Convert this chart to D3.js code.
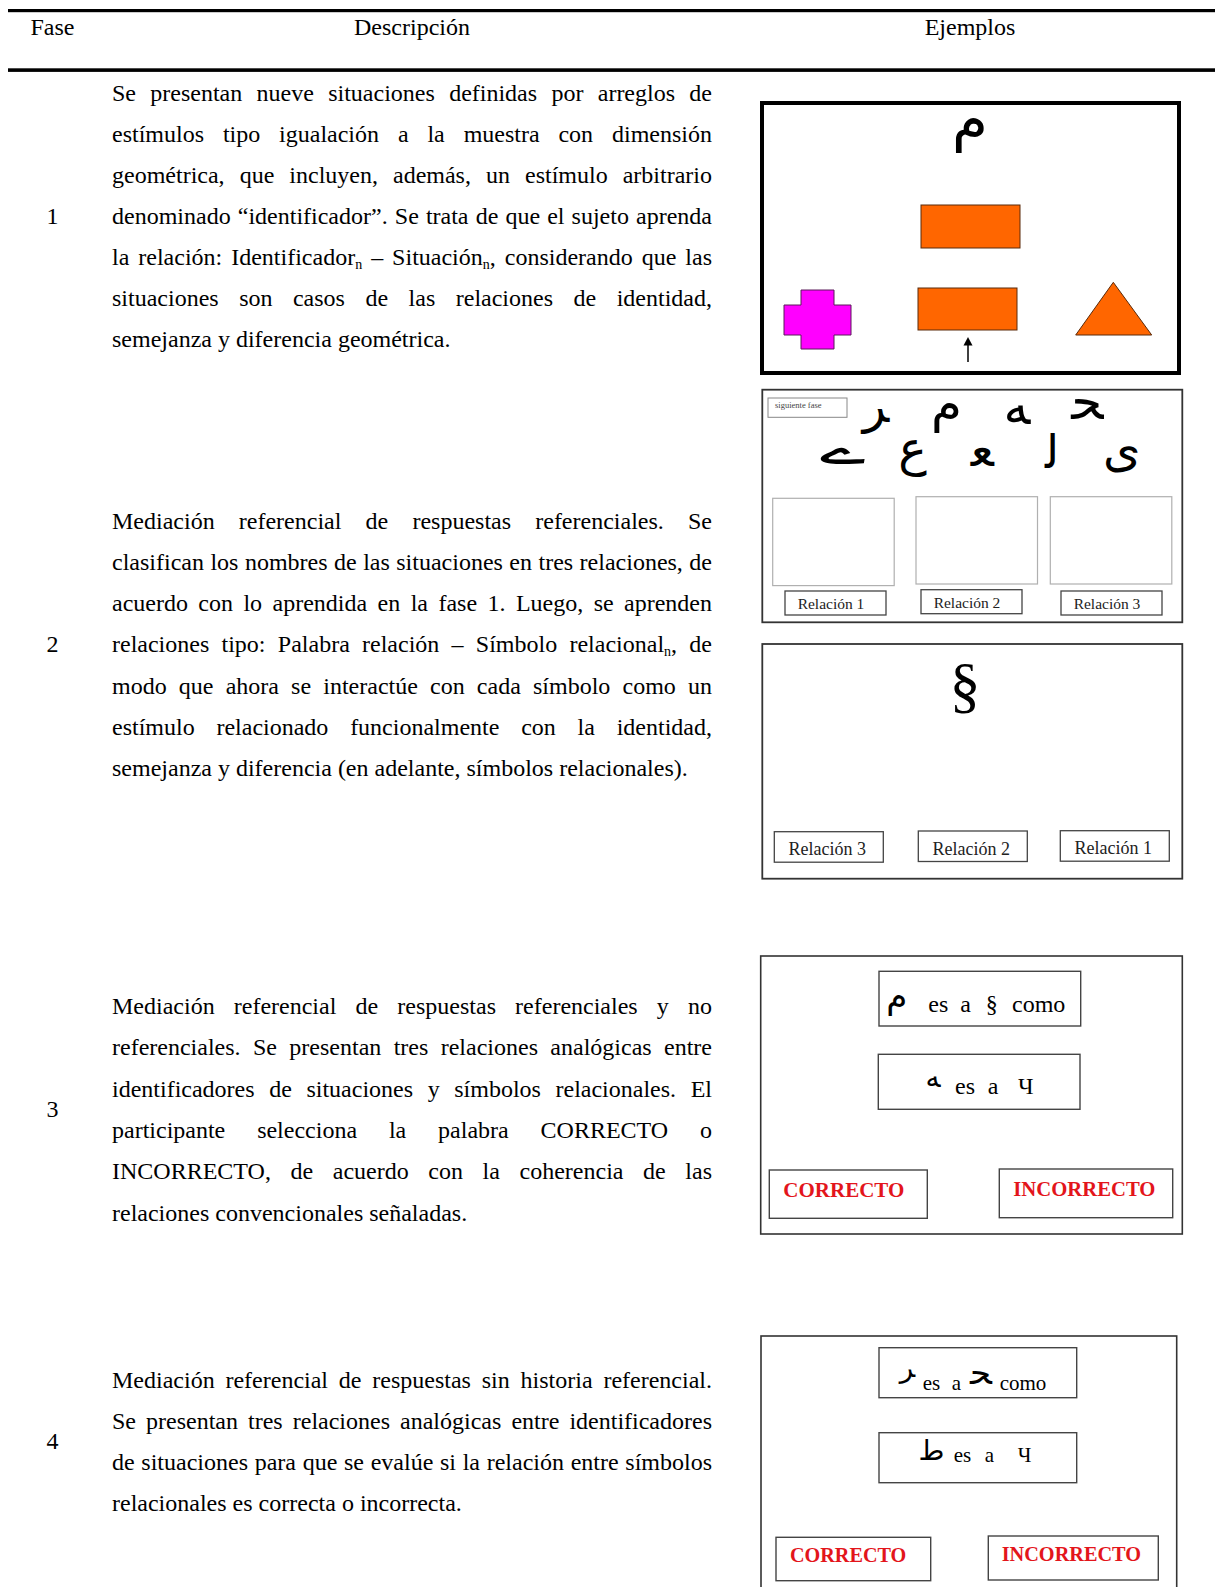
<!DOCTYPE html>
<html><head><meta charset="utf-8">
<script src="https://cdn.jsdelivr.net/npm/d3@7"></script>
<style>body{margin:0;background:#fff}svg{display:block}</style>
</head><body><div id="chart"></div>
<script>
// ---------------- DATA ----------------
const headers = ["Fase", "Descripción", "Ejemplos"];
const phases = ["1", "2", "3", "4"];
const desc1 = [
  "Se presentan nueve situaciones definidas por arreglos de",
  "estímulos tipo igualación a la muestra con dimensión",
  "geométrica, que incluyen, además, un estímulo arbitrario",
  "denominado “identificador”. Se trata de que el sujeto aprenda",
  "la relación: Identificador_n – Situación_n, considerando que las",
  "situaciones son casos de las relaciones de identidad,",
  "semejanza y diferencia geométrica."
];
const desc2 = [
  "Mediación referencial de respuestas referenciales. Se",
  "clasifican los nombres de las situaciones en tres relaciones, de",
  "acuerdo con lo aprendida en la fase 1. Luego, se aprenden",
  "relaciones tipo: Palabra relación – Símbolo relacional_n, de",
  "modo que ahora se interactúe con cada símbolo como un",
  "estímulo relacionado funcionalmente con la identidad,",
  "semejanza y diferencia (en adelante, símbolos relacionales)."
];
const desc3 = [
  "Mediación referencial de respuestas referenciales y no",
  "referenciales. Se presentan tres relaciones analógicas entre",
  "identificadores de situaciones y símbolos relacionales. El",
  "participante selecciona la palabra CORRECTO o",
  "INCORRECTO, de acuerdo con la coherencia de las",
  "relaciones convencionales señaladas."
];
const desc4 = [
  "Mediación referencial de respuestas sin historia referencial.",
  "Se presentan tres relaciones analógicas entre identificadores",
  "de situaciones para que se evalúe si la relación entre símbolos",
  "relacionales es correcta o incorrecta."
];
const descriptions = [desc1, desc2, desc3, desc4];
const phaseLine = [3, 3, 2.5, 1.5];

const identifierSample = "م";
const identifiersRow1 = ["ﺮ", "م", "ﻪ", "ﺤ"];
const identifiersRow2 = ["ے", "ع", "ﻌ", "ﻟ", "ى"];
const nextPhaseLabel = "siguiente fase";
const relationLabelsA = ["Relación 1", "Relación 2", "Relación 3"];
const relationLabelsB = ["Relación 3", "Relación 2", "Relación 1"];
const relationalSymbol = "§";
const analogyA = [["م", "es", "a", "§", "como"], ["ﻪ", "es", "a", "Ч"]];
const analogyB = [["ﺮ", "es", "a", "ﺤ", "como"], ["ط", "es", "a", "Ч"]];
const answers = ["CORRECTO", "INCORRECTO"];

// ---------------- LAYOUT ----------------
const W = 1215, H = 1587;
const serif = "'Liberation Serif','Times New Roman',Times,serif";
const arab = "'DejaVu Sans','Noto Sans',sans-serif";
const red = "#e3151b";
const svg = d3.select("#chart").append("svg").attr("width", W).attr("height", H);
svg.append("rect").attr("width", W).attr("height", H).attr("fill", "#fff");

// rules
svg.append("rect").attr("x", 8).attr("y", 9).attr("width", W - 8).attr("height", 3.2).attr("fill", "#000");
svg.append("rect").attr("x", 8).attr("y", 68.3).attr("width", W - 8).attr("height", 3.6).attr("fill", "#000");

const headerX = d3.scaleOrdinal().domain(headers).range([52.5, 412, 970]);
svg.selectAll(".hdr").data(headers).enter().append("text")
  .attr("x", d => headerX(d)).attr("y", 34.5)
  .attr("text-anchor", "middle").attr("font-family", serif).attr("font-size", 24).text(d => d);

// paragraphs
const textX0 = 112, textX1 = 712;
const firstBase = [100.7, 528.5, 1014, 1387.5];
const lineH = [41.05, 41.3, 41.3, 41.2];

function addWord(t, w) {
  const parts = w.split(/_([a-z])/);
  parts.forEach((p, i) => {
    if (p === "") return;
    if (i % 2 === 1) {
      t.append("tspan").attr("font-size", 14).attr("dy", 4).text(p);
    } else {
      const ts = t.append("tspan").text(p);
      if (i > 0) ts.attr("dy", -4);
    }
  });
}

descriptions.forEach((lines, r) => {
  const y = d3.scaleLinear().domain([0, 1]).range([firstBase[r], firstBase[r] + lineH[r]]);
  const g = svg.append("g").attr("font-family", serif).attr("font-size", 24).attr("fill", "#000");
  lines.forEach((line, i) => {
    const words = line.split(" ");
    const ts = words.map(w => { const t = g.append("text").attr("y", y(i)); addWord(t, w); return t; });
    const widths = ts.map(t => t.node().getComputedTextLength());
    const sum = d3.sum(widths);
    const last = i === lines.length - 1;
    const gap = last ? 6 : (textX1 - textX0 - sum) / (words.length - 1);
    let x = textX0;
    ts.forEach((t, k) => { t.attr("x", x); x += widths[k] + gap; });
  });
  svg.append("text").attr("x", 52.5).attr("y", y(phaseLine[r]))
    .attr("text-anchor", "middle").attr("font-family", serif).attr("font-size", 24).text(phases[r]);
});

// ---------- Panel 1 ----------
const p1 = svg.append("g");
p1.append("rect").attr("x", 762).attr("y", 103).attr("width", 417).attr("height", 270)
  .attr("fill", "#fff").attr("stroke", "#000").attr("stroke-width", 4);
p1.append("text").attr("x", 970).attr("y", 139).attr("text-anchor", "middle")
  .attr("font-family", arab).attr("font-size", 58).text(identifierSample);
p1.append("rect").attr("x", 921).attr("y", 205).attr("width", 99).attr("height", 43)
  .attr("fill", "#ff6600").attr("stroke", "#5a2a0a").attr("stroke-width", 1);
p1.append("rect").attr("x", 918).attr("y", 288).attr("width", 99).attr("height", 42)
  .attr("fill", "#ff6600").attr("stroke", "#5a2a0a").attr("stroke-width", 1);
const cross = [[801,290],[834,290],[834,305],[851,305],[851,335],[834,335],[834,349],[801,349],[801,335],[784,335],[784,305],[801,305]];
p1.append("polygon").attr("points", cross.map(d => d.join(",")).join(" "))
  .attr("fill", "#ff00ff").attr("stroke", "#5a1a5a").attr("stroke-width", 1);
p1.append("polygon").attr("points", "1113.3,282.3 1151.7,335 1075.7,335")
  .attr("fill", "#ff6600").attr("stroke", "#5a2a0a").attr("stroke-width", 1);
p1.append("line").attr("x1", 968).attr("x2", 968).attr("y1", 362).attr("y2", 344).attr("stroke", "#000").attr("stroke-width", 1.5);
p1.append("polygon").attr("points", "968,337 963.5,345.5 972.5,345.5").attr("fill", "#000");

// ---------- Panel 2 ----------
const p2 = svg.append("g");
p2.append("rect").attr("x", 762.3).attr("y", 389.7).attr("width", 420).attr("height", 232.6)
  .attr("fill", "#fff").attr("stroke", "#333").attr("stroke-width", 1.8);
p2.append("rect").attr("x", 768).attr("y", 398).attr("width", 79).attr("height", 19.3)
  .attr("fill", "none").attr("stroke", "#888").attr("stroke-width", 1);
p2.append("text").attr("x", 775).attr("y", 407.5).attr("font-family", serif).attr("font-size", 8.5).attr("fill", "#444").text(nextPhaseLabel);
const row1X = d3.scalePoint().domain(d3.range(identifiersRow1.length)).range([876, 1087.5]);
const row1Y = [422, 421, 424, 419];
const row1F = [48, 50, 50, 50];
p2.selectAll(".id1").data(identifiersRow1).enter().append("text")
  .attr("x", (d, i) => row1X(i)).attr("y", (d, i) => row1Y[i]).attr("text-anchor", "middle")
  .attr("font-family", arab).attr("font-size", (d, i) => row1F[i]).text(d => d);
const row2X = d3.scalePoint().domain(d3.range(identifiersRow2.length)).range([843, 1121.7]);
const row2Y = [464, 465, 466, 468, 466];
const row2F = [44, 48, 48, 46, 48];
const row2Len = [46, null, null, null, null];
p2.selectAll(".id2").data(identifiersRow2).enter().append("text")
  .attr("x", (d, i) => row2X(i) - (row2Len[i] ? row2Len[i] / 2 : 0)).attr("y", (d, i) => row2Y[i])
  .attr("text-anchor", (d, i) => row2Len[i] ? "start" : "middle")
  .attr("direction", "ltr")
  .attr("textLength", (d, i) => row2Len[i])
  .attr("lengthAdjust", "spacingAndGlyphs")
  .attr("font-family", arab).attr("font-size", (d, i) => row2F[i]).text(d => d);
const dropX = [772.7, 916, 1050.3];
const dropY = [498.3, 496.7, 496.7];
relationLabelsA.forEach((lab, i) => {
  p2.append("rect").attr("x", dropX[i]).attr("y", dropY[i]).attr("width", 121.5).attr("height", 87.3)
    .attr("fill", "none").attr("stroke", "#b0b0b0").attr("stroke-width", 1.2);
});
const labAX = [785, 921, 1061], labAY = [591, 589.7, 591];
relationLabelsA.forEach((lab, i) => {
  p2.append("rect").attr("x", labAX[i]).attr("y", labAY[i]).attr("width", 101).attr("height", 24)
    .attr("fill", "none").attr("stroke", "#444").attr("stroke-width", 1.3);
  p2.append("text").attr("x", labAX[i] + 46).attr("y", labAY[i] + 18.3).attr("text-anchor", "middle")
    .attr("font-family", serif).attr("font-size", 15.5).attr("fill", "#222").text(lab);
});

// ---------- Panel 3 ----------
const p3 = svg.append("g");
p3.append("rect").attr("x", 762.3).attr("y", 644).attr("width", 420).attr("height", 234.7)
  .attr("fill", "#fff").attr("stroke", "#333").attr("stroke-width", 1.8);
p3.append("text").attr("x", 965).attr("y", 706).attr("text-anchor", "middle")
  .attr("font-family", serif).attr("font-size", 62).text(relationalSymbol);
const labBX = [774.3, 918.3, 1060.3], labBY = [831.7, 831, 830.7];
relationLabelsB.forEach((lab, i) => {
  p3.append("rect").attr("x", labBX[i]).attr("y", labBY[i]).attr("width", 109).attr("height", 30.5)
    .attr("fill", "none").attr("stroke", "#444").attr("stroke-width", 1.3);
  p3.append("text").attr("x", labBX[i] + 53).attr("y", labBY[i] + 23.5).attr("text-anchor", "middle")
    .attr("font-family", serif).attr("font-size", 18).attr("fill", "#222").text(lab);
});

// ---------- Analogy panels ----------
function analogyPanel(cfg, items) {
  const g = svg.append("g");
  g.append("rect").attr("x", cfg.x).attr("y", cfg.y).attr("width", cfg.w).attr("height", cfg.h)
    .attr("fill", "#fff").attr("stroke", "#333").attr("stroke-width", 1.6);
  cfg.boxes.forEach((b, bi) => {
    g.append("rect").attr("x", b.x).attr("y", b.y).attr("width", b.w).attr("height", b.h)
      .attr("fill", "none").attr("stroke", "#444").attr("stroke-width", 1.4);
    items[bi].forEach((word, k) => {
      const isArab = /[\u0600-\u06FF\uFB50-\uFEFF]/.test(word);
      g.append("text").attr("x", b.cx[k]).attr("y", b.by[k]).attr("text-anchor", "middle")
        .attr("font-family", isArab ? arab : serif)
        .attr("font-size", isArab ? b.af[k] || cfg.af : cfg.fs).text(word);
    });
  });
  cfg.ans.forEach((a, i) => {
    g.append("rect").attr("x", a.x).attr("y", a.y).attr("width", a.w).attr("height", a.h)
      .attr("fill", "none").attr("stroke", "#444").attr("stroke-width", 1.4);
    g.append("text").attr("x", a.tx).attr("y", a.ty).attr("font-family", serif).attr("font-weight", "bold")
      .attr("font-size", a.fs).attr("fill", red).text(answers[i]);
  });
}
analogyPanel({
  x: 760.7, y: 956, w: 421.6, h: 278, fs: 24, af: 32,
  boxes: [
    { x: 879, y: 971.3, w: 201.7, h: 54.7, cx: [896.7, 938.3, 965.5, 991.7, 1038.7], by: [1008, 1011.7, 1011.7, 1011.7, 1011.7], af: [34] },
    { x: 878.3, y: 1054.3, w: 201.7, h: 55, cx: [933, 965, 993, 1025.7], by: [1087, 1094, 1094, 1094], af: [28] }
  ],
  ans: [
    { x: 769.3, y: 1170, w: 158, h: 48.3, tx: 783.3, ty: 1197.3, fs: 21 },
    { x: 999.3, y: 1169, w: 173.4, h: 48.7, tx: 1013.3, ty: 1196, fs: 20.7 }
  ]
}, analogyA);
analogyPanel({
  x: 761, y: 1336, w: 415.7, h: 300, fs: 21, af: 26,
  boxes: [
    { x: 879, y: 1347.7, w: 197.7, h: 50, cx: [907.5, 931.5, 956.5, 981, 1023], by: [1377, 1390, 1390, 1384, 1390], af: [28, 0, 0, 34] },
    { x: 879, y: 1432.7, w: 197.7, h: 50, cx: [931.5, 962.5, 989.5, 1024.5], by: [1460, 1461.7, 1461.7, 1461.7], af: [28] }
  ],
  ans: [
    { x: 776, y: 1537.3, w: 154.7, h: 43.4, tx: 790, ty: 1562.3, fs: 20.2 },
    { x: 988.3, y: 1536, w: 170, h: 44, tx: 1001.7, ty: 1560.7, fs: 20.3 }
  ]
}, analogyB);
</script></body></html>
